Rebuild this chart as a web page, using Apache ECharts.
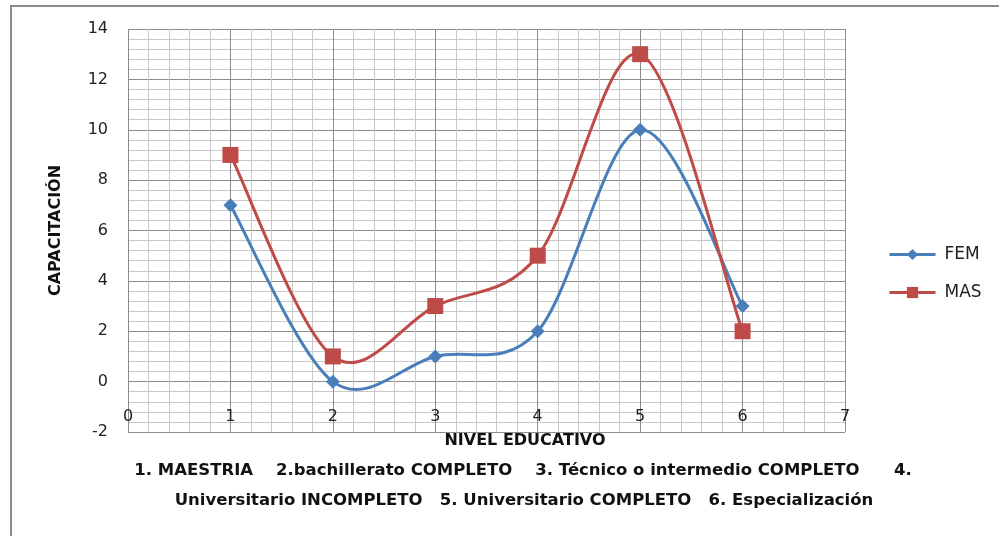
<!DOCTYPE html>
<html>
<head>
<meta charset="utf-8">
<script src="https://cdn.jsdelivr.net/npm/echarts@6/dist/echarts.min.js"></script>
<style>
  html, body { margin: 0; padding: 0; background: #ffffff; }
  #chart { width: 999px; height: 536px; }
</style>
</head>
<body>
<div id="chart"></div>
<script>
// Education level (1..6) on x, number of people trained on y
const nivel = [1, 2, 3, 4, 5, 6];
const fem = [7, 0, 1, 2, 10, 3];
const mas = [9, 1, 3, 5, 13, 2];
const xTicks = { min: 0, max: 7, interval: 1 };
const yTicks = { min: -2, max: 14, interval: 2 };
const xTitle = 'NIVEL EDUCATIVO';
const yTitle = 'CAPACITACIÓN';
const notes = [
  '1. MAESTRIA    2.bachillerato COMPLETO    3. Técnico o intermedio COMPLETO      4.',
  'Universitario INCOMPLETO   5. Universitario COMPLETO   6. Especialización'
];

const FONT = '"DejaVu Sans", "Liberation Sans", sans-serif';
const BLUE = '#4a7ebb';
const RED = '#be4b48';
const pairs = ys => nivel.map((x, i) => [x, ys[i]]);

// Smoothed curve (Catmull-Rom style cubic Bezier in screen space),
// one segment per data item, positioned through the cartesian scales.
function curveSeries(name, ys, color) {
  const n = ys.length;
  return {
    name: name,
    type: 'custom',
    data: pairs(ys),
    z: 2,
    silent: true,
    renderItem: function (params, api) {
      const i = params.dataIndex;
      if (i >= n - 1) return null;
      const pt = k => {
        const j = Math.max(0, Math.min(n - 1, k));
        return api.coord([nivel[j], ys[j]]);
      };
      const p0 = pt(i - 1), p1 = pt(i), p2 = pt(i + 1), p3 = pt(i + 2);
      return {
        type: 'bezierCurve',
        shape: {
          x1: p1[0], y1: p1[1],
          cpx1: p1[0] + (p2[0] - p0[0]) / 6, cpy1: p1[1] + (p2[1] - p0[1]) / 6,
          cpx2: p2[0] - (p3[0] - p1[0]) / 6, cpy2: p2[1] - (p3[1] - p1[1]) / 6,
          x2: p2[0], y2: p2[1]
        },
        style: { stroke: color, lineWidth: 3, fill: null, lineCap: 'round' }
      };
    }
  };
}

const chart = echarts.init(document.getElementById('chart'), null, { renderer: 'canvas' });
chart.setOption({
  animation: false,
  backgroundColor: '#ffffff',
  textStyle: { fontFamily: FONT },
  grid: { left: 128, right: 154, top: 29, bottom: 104, containLabel: false },
  xAxis: {
    type: 'value',
    position: 'bottom',
    offset: -23,
    min: xTicks.min, max: xTicks.max, interval: xTicks.interval,
    axisLine: { show: false, onZero: false },
    axisTick: { show: false },
    axisLabel: { margin: 0, fontSize: 16, color: '#222', fontFamily: FONT },
    splitLine: { show: true, lineStyle: { color: '#8c8c8c', width: 1 } },
    minorTick: { show: false, splitNumber: 5 },
    minorSplitLine: { show: true, lineStyle: { color: '#c9c9c9', width: 1 } }
  },
  yAxis: {
    type: 'value',
    min: yTicks.min, max: yTicks.max, interval: yTicks.interval,
    name: yTitle,
    nameLocation: 'middle',
    nameGap: 64,
    nameRotate: 90,
    nameTextStyle: { fontSize: 16, fontWeight: 'bold', color: '#111', fontFamily: FONT },
    axisLine: { show: false },
    axisTick: { show: false },
    axisLabel: { margin: 20, fontSize: 16, color: '#222', fontFamily: FONT },
    splitLine: { show: true, lineStyle: { color: '#8c8c8c', width: 1 } },
    minorTick: { show: false, splitNumber: 5 },
    minorSplitLine: { show: true, lineStyle: { color: '#c9c9c9', width: 1 } }
  },
  legend: {
    orient: 'vertical',
    left: 883,
    top: 241,
    itemWidth: 46,
    itemHeight: 14,
    itemGap: 21,
    lineStyle: { width: 3, opacity: 1 },
    textStyle: { fontSize: 17, color: '#222', fontFamily: FONT, padding: [0, 0, 0, 4] },
    data: ['FEM', 'MAS']
  },
  series: [
    curveSeries('FEM curva', fem, BLUE),
    curveSeries('MAS curva', mas, RED),
    {
      name: 'FEM',
      type: 'line',
      data: pairs(fem),
      symbol: 'diamond',
      symbolSize: 14,
      lineStyle: { color: BLUE, width: 3, opacity: 0 },
      itemStyle: { color: BLUE },
      z: 4
    },
    {
      name: 'MAS',
      type: 'line',
      data: pairs(mas),
      symbol: 'rect',
      symbolSize: 16,
      lineStyle: { color: RED, width: 3, opacity: 0 },
      itemStyle: { color: RED },
      z: 3
    }
  ],
  graphic: [
    {
      type: 'rect',
      shape: { x: 11, y: 6, width: 1000, height: 540 },
      style: { fill: 'none', stroke: '#8a8a8a', lineWidth: 2 },
      silent: true
    },
    {
      type: 'text',
      style: { text: xTitle, x: 525, y: 441, textAlign: 'center', textVerticalAlign: 'middle',
               font: 'bold 16px ' + FONT, fill: '#111' }
    },
    {
      type: 'text',
      style: { text: notes[0], x: 523, y: 471, textAlign: 'center', textVerticalAlign: 'middle',
               font: 'bold 16.5px ' + FONT, fill: '#111' }
    },
    {
      type: 'text',
      style: { text: notes[1], x: 524, y: 501, textAlign: 'center', textVerticalAlign: 'middle',
               font: 'bold 16.5px ' + FONT, fill: '#111' }
    }
  ]
});
</script>
</body>
</html>
